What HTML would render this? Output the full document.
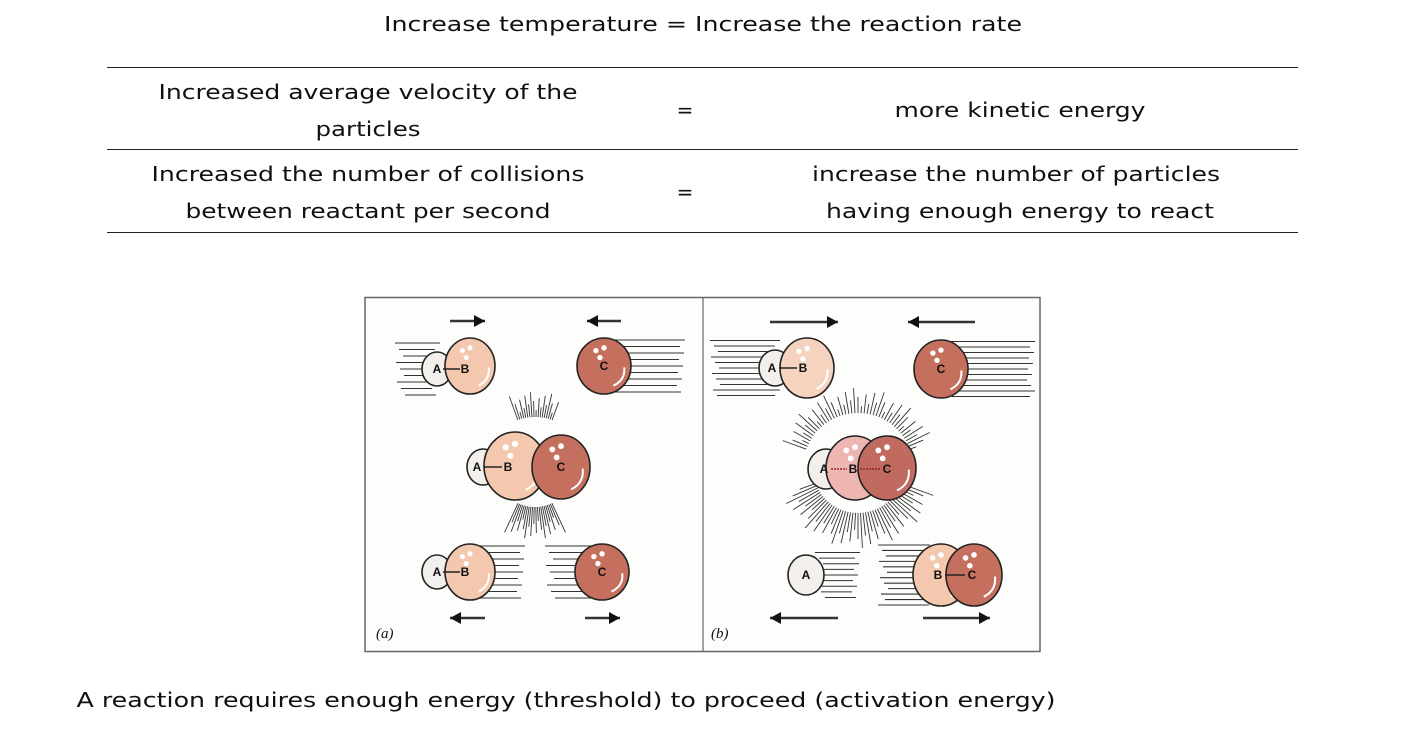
<!DOCTYPE html>
<html><head><meta charset="utf-8"><style>
html,body{margin:0;padding:0;background:#fff;width:1410px;height:738px;overflow:hidden}
svg{display:block}
text{font-family:"DejaVu Sans","Liberation Sans",sans-serif;fill:#111}
.t{font-size:20px}
.m text{font-family:"Liberation Sans",sans-serif;font-size:12px;font-weight:bold;fill:#111}
</style></head><body>
<svg id="s" width="1410" height="738" viewBox="0 0 1410 738" xmlns="http://www.w3.org/2000/svg">
<g class="t" text-anchor="middle">
<text x="703" y="31" textLength="638" lengthAdjust="spacingAndGlyphs">Increase temperature = Increase the reaction rate</text>
<text x="368" y="99" textLength="419" lengthAdjust="spacingAndGlyphs">Increased average velocity of the</text>
<text x="368" y="136" textLength="105" lengthAdjust="spacingAndGlyphs">particles</text>
<text x="685" y="117">=</text>
<text x="1020" y="117" textLength="251" lengthAdjust="spacingAndGlyphs">more kinetic energy</text>
<text x="368" y="181" textLength="433" lengthAdjust="spacingAndGlyphs">Increased the number of collisions</text>
<text x="368" y="218" textLength="365" lengthAdjust="spacingAndGlyphs">between reactant per second</text>
<text x="685" y="199">=</text>
<text x="1016" y="181" textLength="408" lengthAdjust="spacingAndGlyphs">increase the number of particles</text>
<text x="1020" y="218" textLength="388" lengthAdjust="spacingAndGlyphs">having enough energy to react</text>
<text x="566" y="707" textLength="979" lengthAdjust="spacingAndGlyphs">A reaction requires enough energy (threshold) to proceed (activation energy)</text>
</g>
<g stroke="#222" stroke-width="1">
<line x1="107" y1="67.5" x2="1298" y2="67.5"/>
<line x1="107" y1="149.5" x2="1298" y2="149.5"/>
<line x1="107" y1="232.5" x2="1298" y2="232.5"/>
</g>
<rect x="365" y="297.5" width="675" height="354" fill="#fdfdfb" stroke="#666" stroke-width="1.5"/>
<line x1="703" y1="298" x2="703" y2="652" stroke="#666" stroke-width="1.2"/>
<g id="lines" stroke="#333" stroke-width="1"></g>
<g id="mol" class="m" stroke="#222" stroke-width="1.6"></g>
<g font-style="italic" font-size="15">
<text x="376" y="638" style="font-family:'Liberation Serif',serif">(a)</text>
<text x="711" y="638" style="font-family:'Liberation Serif',serif">(b)</text>
</g>
</svg>
<script>
var NS="http://www.w3.org/2000/svg",L=document.getElementById('lines'),M=document.getElementById('mol');
function el(p,t,a){var e=document.createElementNS(NS,t);for(var k in a)e.setAttribute(k,a[k]);p.appendChild(e);return e;}
function ln(x1,y1,x2,y2,w){el(L,'line',{x1:x1,y1:y1,x2:x2,y2:y2,'stroke-width':w||1});}
function arrow(x1,x2,y){ln(x1,y,x2,y,2.5);var d=x2>x1?1:-1;el(L,'polygon',{points:(x2)+','+y+' '+(x2-d*11)+','+(y-6)+' '+(x2-d*11)+','+(y+6),fill:'#111',stroke:'none'});}
function speed(x1,x2,yc,h,n){for(var i=0;i<n;i++){var y=yc-h/2+i*h/(n-1);var j=(i*37%11);ln(x1+j,y,x2-(i*23%9),y,1.1);}}
function burst(cx,cy,r1,r2,a0,a1,n){for(var i=0;i<n;i++){var a=(a0+(a1-a0)*i/(n-1))*Math.PI/180;var rr=r2-(i*17%7)*3;ln(cx+r1*Math.cos(a),cy+r1*Math.sin(a),cx+rr*Math.cos(a),cy+rr*Math.sin(a),0.9);}}
function ball(cx,cy,r,fill,lbl,hl,ry){ry=ry||r;el(M,'ellipse',{cx:cx,cy:cy,rx:r,ry:ry,fill:fill});
 if(hl){el(M,'path',{d:'M'+(cx+r*0.35)+','+(cy+ry*0.7)+' Q'+(cx+r*0.8)+','+(cy+ry*0.5)+' '+(cx+r*0.75)+','+(cy+ry*0.05),fill:'none',stroke:'#fff','stroke-width':2});
 [[-0.3,-0.55],[0,-0.65],[-0.15,-0.3]].forEach(function(p){el(M,'circle',{cx:cx+p[0]*r,cy:cy+p[1]*ry,r:r*0.1,fill:'#fff',stroke:'none'});});}
 if(lbl){var t=el(M,'text',{x:cx,y:cy+4,'text-anchor':'middle',stroke:'none'});t.textContent=lbl;}}
function tx(x,y,s){el(M,'text',{x:x,y:y,'text-anchor':'middle',stroke:'none'}).textContent=s;}
var cA='#f2efec',cB='#f3c8ae',cC='#c5705f',cBb='#eeb6b0';
// panel a
arrow(450,485,321);arrow(621,587,321);
speed(395,440,369,52,9);speed(600,685,366,52,9);
ball(437,369,15,cA,'',0,17);ball(470,366,25,cB,'',1,28);
tx(437,373,'A');el(M,'line',{x1:443,y1:369,x2:460,y2:369});tx(465,373,'B');
ball(604,366,27,cC,'C',1,28);
burst(535,467,50,75,-110,-70,18);burst(535,467,40,72,65,115,22);
ball(483,467,16,cA,'',0,18);ball(515,466,31,cB,'',1,34);ball(561,467,29,cC,'C',1,32);
tx(477,471,'A');el(M,'line',{x1:484,y1:467,x2:502,y2:467});tx(508,471,'B');
speed(470,525,572,52,9);speed(545,600,572,52,9);
ball(437,572,15,cA,'',0,17);ball(470,572,25,cB,'',1,28);
tx(437,576,'A');el(M,'line',{x1:443,y1:572,x2:460,y2:572});tx(465,576,'B');
ball(602,572,27,cC,'C',1,28);
arrow(485,450,618);arrow(585,620,618);
// panel b
arrow(770,838,322);arrow(975,908,322);
speed(710,780,368,55,11);speed(945,1035,369,55,11);
ball(775,368,16,cA,'',0,18);ball(807,368,27,'#f6d3bf','',1,30);
tx(772,372,'A');el(M,'line',{x1:779,y1:368,x2:797,y2:368});tx(803,372,'B');
ball(941,369,27,cC,'C',1,29);
burst(858,468,55,80,-160,-20,45);burst(858,468,45,80,20,160,45);
ball(826,469,18,cA,'',0,20);ball(855,468,29,cBb,'',1,32);ball(887,468,29,'#c06a60','',1,32);
tx(824,473,'A');tx(853,473,'B');tx(887,473,'C');
el(M,'line',{x1:831,y1:469,x2:847,y2:469,'stroke-dasharray':'2,1',stroke:'#922'});
el(M,'line',{x1:860,y1:469,x2:881,y2:469,'stroke-dasharray':'2,1',stroke:'#922'});
speed(815,860,575,45,9);speed(878,930,575,60,12);
ball(806,575,18,cA,'A',0,20);
ball(941,575,28,cB,'',1,31);ball(974,575,28,cC,'',1,31);
tx(938,579,'B');el(M,'line',{x1:945,y1:575,x2:965,y2:575});tx(972,579,'C');
arrow(838,770,618);arrow(923,990,618);
</script>
</body></html>
